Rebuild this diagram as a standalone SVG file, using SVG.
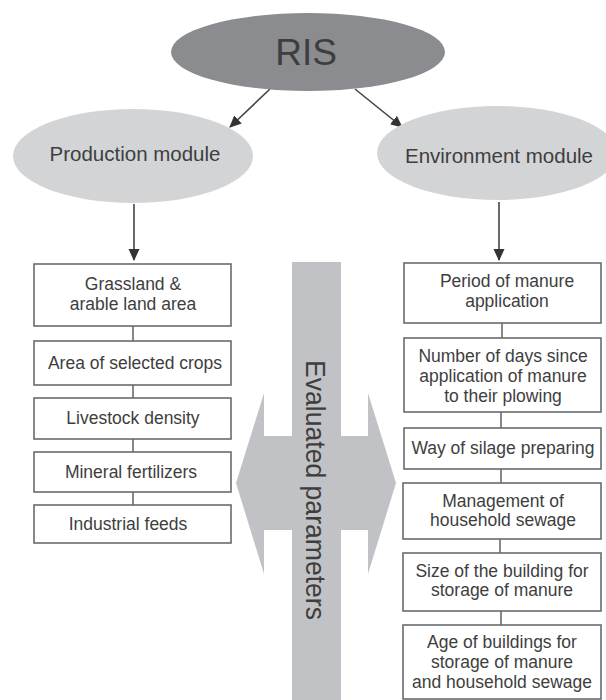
<svg xmlns="http://www.w3.org/2000/svg" width="606" height="700" viewBox="0 0 606 700">
<defs>
<marker id="ah" markerWidth="12" markerHeight="12" viewBox="0 0 12 12" refX="11" refY="6" orient="auto" markerUnits="userSpaceOnUse">
<path d="M0,0.5 L12,6 L0,11.5 Z" fill="#333"/>
</marker>
<style>
.t{font-family:"Liberation Sans",Arial,sans-serif;fill:#3e3e3e;text-anchor:middle}
.bt{font-size:17.5px}
.box{fill:#fff;stroke:#6a6b6d;stroke-width:1.6}
.cn{stroke:#6a6b6d;stroke-width:1.6;fill:none}
.ar{stroke:#444;stroke-width:1.6;fill:none;marker-end:url(#ah)}
</style>
</defs>
<rect width="606" height="700" fill="#fff"/>

<g id="big-arrow">
<polygon points="292,262 341,262 341,436 368,436 368,393 396,483 368,574 368,530 341,530 341,700 292,700 292,530 264,530 264,574 236,483 264,393 264,436 292,436" fill="#c1c2c5"/>
<text class="t" font-size="28" transform="translate(306,490) rotate(90)" x="0" y="0" textLength="260" lengthAdjust="spacingAndGlyphs">Evaluated parameters</text>
</g>

<g id="connectors">
<line class="ar" x1="270" y1="89" x2="230" y2="127"/>
<line class="ar" x1="355" y1="89" x2="402" y2="127"/>
<line class="ar" x1="134" y1="204" x2="134" y2="260"/>
<line class="ar" x1="499" y1="202" x2="499" y2="260"/>
<line class="cn" x1="133" y1="326" x2="133" y2="341"/>
<line class="cn" x1="133" y1="385" x2="133" y2="398"/>
<line class="cn" x1="133" y1="439" x2="133" y2="452"/>
<line class="cn" x1="133" y1="492" x2="133" y2="505"/>
<line class="cn" x1="502" y1="323" x2="502" y2="338"/>
<line class="cn" x1="501" y1="412" x2="501" y2="428"/>
<line class="cn" x1="501" y1="469" x2="501" y2="483"/>
<line class="cn" x1="500" y1="539" x2="500" y2="553"/>
<line class="cn" x1="501" y1="611" x2="501" y2="625"/>
</g>

<g id="ris">
<ellipse cx="308" cy="52" rx="137" ry="39" fill="#8b8c8f"/>
<text class="t" x="306" y="65" font-size="37" fill="#333">RIS</text>
</g>

<g id="production">
<ellipse cx="133" cy="156" rx="120" ry="47" fill="#d3d4d6"/>
<text class="t" x="135" y="161" font-size="20.5">Production module</text>
</g>

<g id="environment">
<ellipse cx="497" cy="153" rx="120" ry="47" fill="#d3d4d6"/>
<text class="t" x="499" y="163" font-size="20.5">Environment module</text>
</g>

<g id="p1"><rect class="box" x="34" y="264" width="197" height="62"/>
<text class="t bt" x="133" y="290">Grassland &amp;</text><text class="t bt" x="133" y="310">arable land area</text></g>
<g id="p2"><rect class="box" x="34" y="341" width="197" height="44"/>
<text class="t bt" x="135" y="369">Area of selected crops</text></g>
<g id="p3"><rect class="box" x="34" y="398" width="197" height="41"/>
<text class="t bt" x="133" y="424">Livestock density</text></g>
<g id="p4"><rect class="box" x="34" y="452" width="197" height="40"/>
<text class="t bt" x="131" y="478">Mineral fertilizers</text></g>
<g id="p5"><rect class="box" x="34" y="505" width="197" height="38"/>
<text class="t bt" x="128" y="530">Industrial feeds</text></g>

<g id="e1"><rect class="box" x="404" y="263" width="197" height="60"/>
<text class="t bt" x="507" y="287">Period of manure</text><text class="t bt" x="507" y="307">application</text></g>
<g id="e2"><rect class="box" x="404" y="338" width="197" height="74"/>
<text class="t bt" x="503" y="362">Number of days since</text><text class="t bt" x="503" y="382">application of manure</text><text class="t bt" x="503" y="402">to their plowing</text></g>
<g id="e3"><rect class="box" x="404" y="428" width="197" height="41"/>
<text class="t bt" x="503" y="454">Way of silage preparing</text></g>
<g id="e4"><rect class="box" x="403" y="483" width="198" height="56"/>
<text class="t bt" x="503" y="507">Management of</text><text class="t bt" x="503" y="526">household sewage</text></g>
<g id="e5"><rect class="box" x="403" y="553" width="198" height="58"/>
<text class="t bt" x="502" y="577">Size of the building for</text><text class="t bt" x="502" y="596">storage of manure</text></g>
<g id="e6"><rect class="box" x="403" y="625" width="198" height="74"/>
<text class="t bt" x="502" y="648">Age of buildings for</text><text class="t bt" x="502" y="668">storage of manure</text><text class="t bt" x="502" y="688">and household sewage</text></g>
</svg>
